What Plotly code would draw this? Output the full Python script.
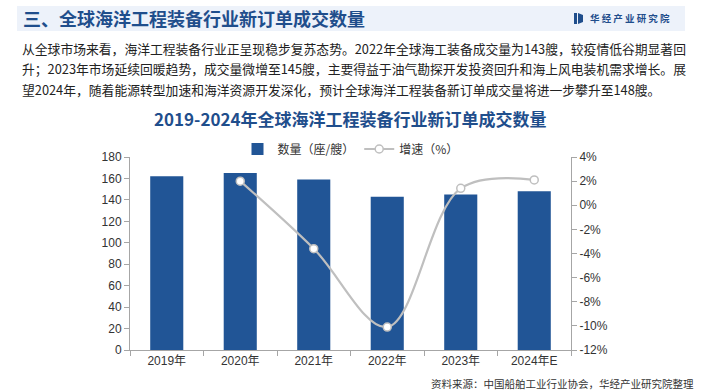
import plotly.graph_objects as go

categories = ["2019年", "2020年", "2021年", "2022年", "2023年", "2024年E"]
quantity = [162, 165, 159, 143, 145, 148]
growth = [None, 2.0, -3.6, -10.1, 1.4, 2.1]
left_ticks = [0, 20, 40, 60, 80, 100, 120, 140, 160, 180]
right_ticks = [-12, -10, -8, -6, -4, -2, 0, 2, 4]
right_tick_labels = ["-12%", "-10%", "-8%", "-6%", "-4%", "-2%", "0%", "2%", "4%"]

W, H = 704, 392
L, R, T, B = 130, 571, 157, 350

def px(x):
    return (x - L) / (R - L)

def py(y):
    return (B - y) / (B - T)

CJK = "Noto Sans CJK SC"
LAT = "Liberation Sans, Noto Sans CJK SC"
BLUE = "#215596"
TITLE_BLUE = "#1F4E8C"

fig = go.Figure()
fig.add_trace(go.Bar(
    x=categories, y=quantity, name="数量（座/艘）",
    marker=dict(color=BLUE, line=dict(width=0)), width=0.45,
    yaxis="y",
))
fig.add_trace(go.Scatter(
    x=categories, y=growth, name="增速（%）", yaxis="y2",
    mode="lines+markers",
    line=dict(color="#BFBFBF", width=2.2, shape="spline", smoothing=1.0),
    marker=dict(symbol="circle", size=8, color="white", line=dict(color="#BFBFBF", width=1.5)),
    connectgaps=False,
))

axis_font = dict(family=LAT, size=12, color="#333333")

fig.update_layout(
    width=W, height=H,
    margin=dict(l=L, r=W - R, t=T, b=H - B, pad=0, autoexpand=False),
    paper_bgcolor="white", plot_bgcolor="white",
    showlegend=True,
    legend=dict(orientation="h", x=0.5, xanchor="center", y=py(149), yanchor="middle",
                font=dict(family=CJK, size=12, color="#333333"),
                itemwidth=30, traceorder="normal", bgcolor="rgba(0,0,0,0)"),
    xaxis=dict(type="category", showline=True, linecolor="#A6A6A6", linewidth=1,
               ticks="outside", tickson="boundaries", ticklen=5, tickcolor="#A6A6A6",
               tickfont=dict(family=LAT, size=12, color="#333333"), showgrid=False,
               range=[-0.5, 5.5]),
    yaxis=dict(range=[0, 180], tickvals=left_ticks, showline=True, linecolor="#A6A6A6", linewidth=1,
               ticks="outside", ticklen=5, tickcolor="#A6A6A6", showgrid=False, zeroline=False,
               tickfont=axis_font),
    yaxis2=dict(range=[-12, 4], tickvals=right_ticks, ticktext=right_tick_labels,
                overlaying="y", side="right", showline=True,
                linecolor="#A6A6A6", linewidth=1, ticks="outside", ticklen=5, tickcolor="#A6A6A6",
                showgrid=False, zeroline=False, tickfont=axis_font),
    bargap=0.55,
)

shapes = [
    dict(type="rect", xref="paper", yref="paper", x0=px(17), x1=px(685), y0=py(31), y1=py(6),
         fillcolor="#EDF2FA", line=dict(width=0), layer="below"),
    dict(type="rect", xref="paper", yref="paper", x0=px(574), x1=px(577), y0=py(24), y1=py(13),
         fillcolor=TITLE_BLUE, line=dict(width=0)),
    dict(type="path", xref="paper", yref="paper",
         path=f"M {px(578)} {py(13)} L {px(583)} {py(15)} L {px(583)} {py(22)} L {px(578)} {py(24)} Z",
         fillcolor=TITLE_BLUE, line=dict(width=0)),
]
fig.update_layout(shapes=shapes)

para = [
    "从全球市场来看，海洋工程装备行业正呈现稳步复苏态势。2022年全球海工装备成交量为143艘，较疫情低谷期显著回",
    "升；2023年市场延续回暖趋势，成交量微增至145艘，主要得益于油气勘探开发投资回升和海上风电装机需求增长。展",
    "望2024年，随着能源转型加速和海洋资源开发深化，预计全球海洋工程装备新订单成交量将进一步攀升至148艘。",
]
ann = [
    dict(text="<b>三、全球海洋工程装备行业新订单成交数量</b>", x=px(21), y=py(18), xref="paper", yref="paper",
         xanchor="left", yanchor="middle", showarrow=False,
         font=dict(family=CJK, size=18, color=TITLE_BLUE)),
    dict(text="<b>华 经 产 业 研 究 院</b>", x=px(588), y=py(18), xref="paper", yref="paper",
         xanchor="left", yanchor="middle", showarrow=False,
         font=dict(family=CJK, size=9.5, color=TITLE_BLUE)),
    dict(text="<b>2019-2024年全球海洋工程装备行业新订单成交数量</b>", x=0.5, y=py(118), xref="paper", yref="paper",
         xanchor="center", yanchor="middle", showarrow=False,
         font=dict(family=CJK, size=17, color=TITLE_BLUE)),
    dict(text="资料来源：中国船舶工业行业协会，华经产业研究院整理", x=px(696), y=py(383), xref="paper", yref="paper",
         xanchor="right", yanchor="middle", showarrow=False,
         font=dict(family=CJK, size=10.5, color="#333333")),
]
for i, line in enumerate(para):
    ann.append(dict(text=line, x=px(20), y=py([48, 69, 89][i]), xref="paper", yref="paper",
                    xanchor="left", yanchor="middle", showarrow=False,
                    font=dict(family=CJK, size=12.8, color="#222222")))
fig.update_layout(annotations=ann)

fig.write_html("out.html", config={"displayModeBar": False},
               post_script="document.body.style.margin='0';document.body.style.padding='0';document.body.style.overflow='hidden';")
